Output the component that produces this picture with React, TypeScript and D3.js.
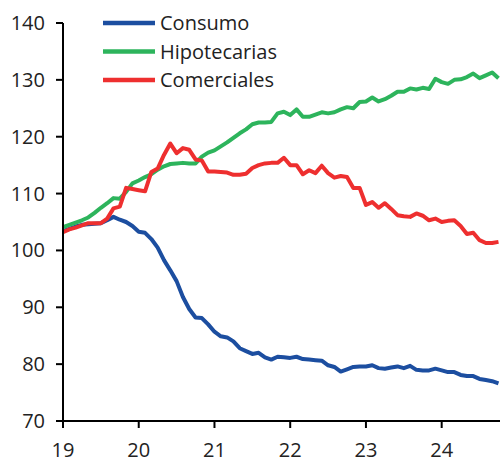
import React from "react";
import * as d3 from "d3";

const startYear = 19;
const consumo = [
  103.4, 103.8, 104.2, 104.5, 104.6, 104.7, 104.8, 105.3, 105.9, 105.4, 105.0, 104.3,
  103.3, 103.1, 102.0, 100.5, 98.3, 96.5, 94.6, 91.8, 89.7, 88.2, 88.1, 87.0,
  85.7, 84.9, 84.7, 84.0, 82.8, 82.3, 81.8, 82.0, 81.2, 80.8, 81.3, 81.2,
  81.1, 81.3, 80.9, 80.8, 80.7, 80.6, 79.8, 79.5, 78.7, 79.1, 79.5, 79.6,
  79.6, 79.8, 79.3, 79.2, 79.4, 79.6, 79.3, 79.7, 79.0, 78.9, 78.9, 79.2,
  78.9, 78.6, 78.6, 78.1, 77.9, 77.9, 77.4, 77.2, 77.0, 76.6,
];
const hipotecarias = [
  104.1, 104.5, 104.9, 105.3, 105.8, 106.6, 107.5, 108.3, 109.2, 109.1, 110.3, 111.8,
  112.3, 112.9, 113.4, 114.2, 114.8, 115.2, 115.3, 115.4, 115.3, 115.3, 116.5, 117.2,
  117.6, 118.3, 119.0, 119.8, 120.6, 121.3, 122.2, 122.5, 122.5, 122.6, 124.1, 124.4,
  123.8, 124.8, 123.5, 123.5, 123.9, 124.3, 124.1, 124.3, 124.8, 125.2, 125.0, 126.1,
  126.2, 126.9, 126.2, 126.6, 127.2, 127.9, 127.9, 128.5, 128.3, 128.6, 128.4, 130.2,
  129.6, 129.3, 130.0, 130.1, 130.5, 131.1, 130.3, 130.8, 131.3, 130.3,
];
const comerciales = [
  103.2, 103.7, 104.0, 104.4, 104.8, 104.8, 104.8, 105.6, 107.4, 107.7, 111.0, 110.8,
  110.6, 110.4, 113.8, 114.4, 116.8, 118.8, 117.1, 118.0, 117.7, 116.0, 115.8, 113.9,
  113.9, 113.8, 113.7, 113.3, 113.3, 113.5, 114.5, 115.0, 115.3, 115.4, 115.4, 116.3,
  115.0, 115.0, 113.4, 114.1, 113.6, 114.9, 113.6, 112.8, 113.1, 112.9, 111.0, 111.0,
  108.0, 108.5, 107.5, 108.3, 107.3, 106.2, 106.0, 105.9, 106.5, 106.1, 105.3, 105.6,
  105.0, 105.2, 105.3, 104.3, 102.9, 103.1, 101.8, 101.3, 101.3, 101.5,
];
const seriesNames = ["Consumo", "Hipotecarias", "Comerciales"];
const seriesColors = ["#1c4ea0", "#2db45c", "#ee2f2f"];
const yTicks = [70, 80, 90, 100, 110, 120, 130, 140];
const xTicks = [19, 20, 21, 22, 23, 24];

export default function App() {
  const W = 500, H = 459;
  const left = 63, right = 500, top = 23, bottom = 421;
  const x = d3.scaleLinear().domain([19, 24.77]).range([left, right]);
  const y = d3.scaleLinear().domain([70, 140]).range([bottom, top]);
  const allSeries = [consumo, hipotecarias, comerciales];
  const line = d3
    .line<number>()
    .x((_, i) => x(startYear + i / 12))
    .y((d) => y(d));
  const font = "'Open Sans', sans-serif";
  return (
    <svg
      width={W}
      height={H}
      style={{ position: "absolute", left: 0, top: 0, background: "#fff" }}
      fontFamily={font}
    >
      {allSeries.map((s, k) => (
        <path
          key={k}
          d={line(s) || ""}
          fill="none"
          stroke={seriesColors[k]}
          strokeWidth={4}
          strokeLinejoin="round"
        />
      ))}
      <line x1={left} x2={left} y1={top} y2={bottom} stroke="#000" strokeWidth={2} />
      <line x1={left} x2={right} y1={bottom} y2={bottom} stroke="#000" strokeWidth={2} />
      {yTicks.map((t) => (
        <g key={t}>
          <line x1={left - 7} x2={left} y1={y(t)} y2={y(t)} stroke="#000" strokeWidth={2} />
          <text x={45} y={y(t) + 7} textAnchor="end" fontSize={20} fill="#222">
            {t}
          </text>
        </g>
      ))}
      {xTicks.map((t) => (
        <g key={t}>
          <line x1={x(t)} x2={x(t)} y1={bottom} y2={bottom + 7} stroke="#000" strokeWidth={2} />
          <text x={x(t)} y={457} textAnchor="middle" fontSize={20} fill="#222">
            {t}
          </text>
        </g>
      ))}
      {seriesNames.map((n, k) => (
        <g key={n}>
          <line
            x1={103}
            x2={155}
            y1={23 + k * 28.5}
            y2={23 + k * 28.5}
            stroke={seriesColors[k]}
            strokeWidth={4.5}
          />
          <text x={160} y={23 + k * 28.5 + 7} fontSize={20} fill="#222">
            {n}
          </text>
        </g>
      ))}
    </svg>
  );
}
